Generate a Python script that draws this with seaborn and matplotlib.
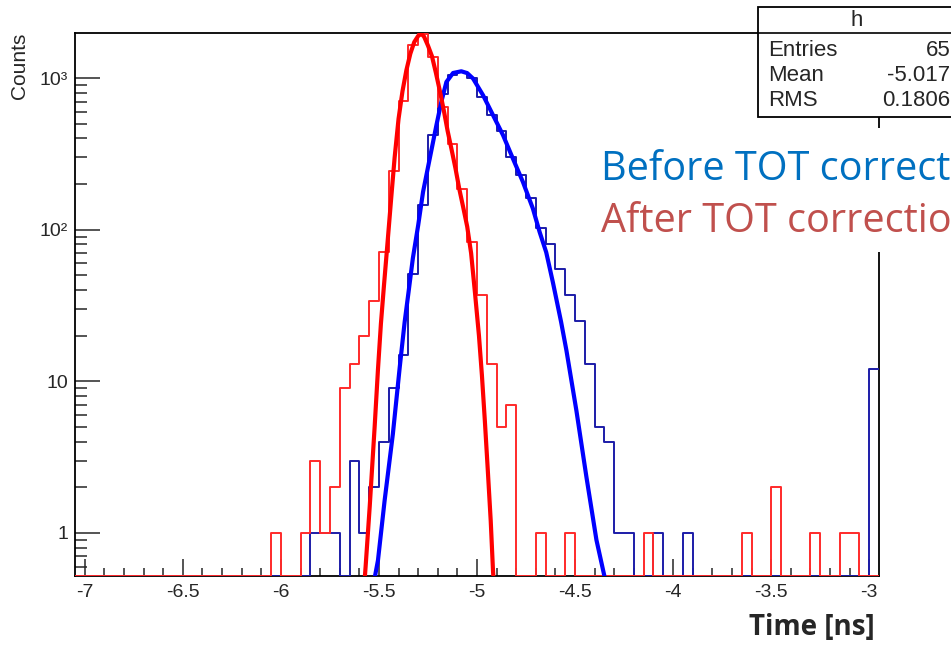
import matplotlib
matplotlib.use("Agg")
import matplotlib.pyplot as plt
import numpy as np
import seaborn as sns
from matplotlib.patches import Rectangle
from matplotlib.ticker import FixedLocator, LogLocator, NullFormatter

sns.set_style("ticks")
plt.rcParams["font.family"] = ["Liberation Sans", "DejaVu Sans"]

# binning of the time histograms (ns)
t_lo, t_hi, t_bin = -7.05, -2.95, 0.05
y_lo, y_hi = 0.52, 1986

# non-empty bins, given by left edge and counts
blue_left = [-5.85, -5.80, -5.75, -5.65, -5.60, -5.55, -5.50, -5.45, -5.40, -5.35,
             -5.30, -5.25, -5.20, -5.15, -5.10, -5.05, -5.00, -4.95, -4.90, -4.85,
             -4.80, -4.75, -4.70, -4.65, -4.60, -4.55, -4.50, -4.45, -4.40, -4.35,
             -4.30, -4.25, -4.10, -3.95, -3.00]
blue_count = [1, 1, 1, 3, 1, 2, 4, 9, 15, 51,
              145, 420, 790, 1045, 1100, 1003, 752, 575, 446, 302,
              229, 161, 102, 80, 55, 37, 25, 13, 5, 4,
              1, 1, 1, 1, 12]

red_left = [-6.05, -5.90, -5.85, -5.80, -5.75, -5.70, -5.65, -5.60, -5.55, -5.50,
            -5.45, -5.40, -5.35, -5.30, -5.25, -5.20, -5.15, -5.10, -5.05, -5.00,
            -4.95, -4.90, -4.85, -4.70, -4.55, -4.15, -3.65, -3.50, -3.30, -3.15,
            -3.10]
red_count = [1, 1, 3, 1, 2, 9, 13, 20, 34, 71,
             243, 704, 1650, 1950, 1380, 645, 370, 187, 83, 37,
             13, 5, 7, 1, 1, 1, 1, 2, 1, 1,
             1]

# fitted curves
blue_fit_t = [-5.525, -5.505, -5.471, -5.429, -5.394, -5.369, -5.349, -5.327, -5.300,
              -5.275, -5.241, -5.207, -5.182, -5.156, -5.122, -5.080, -5.050, -5.020,
              -4.969, -4.918, -4.867, -4.817, -4.766, -4.715, -4.681, -4.647, -4.613,
              -4.571, -4.544, -4.493, -4.442, -4.391, -4.349, -4.340]
blue_fit_n = [0.48, 0.66, 1.64, 4.5, 12.4, 24.6, 38.9, 65, 107,
              178, 295, 489, 697, 944, 1082, 1110, 1080, 994,
              771, 569, 420, 295, 207, 138, 97, 71, 45,
              24.6, 16, 6.4, 2.34, 0.9, 0.51, 0.45]

red_fit_t = [-5.578, -5.568, -5.547, -5.522, -5.505, -5.490, -5.475, -5.457, -5.437,
             -5.420, -5.400, -5.380, -5.360, -5.340, -5.320, -5.300, -5.284, -5.270,
             -5.250, -5.230, -5.210, -5.190, -5.170, -5.150, -5.130, -5.110, -5.090,
             -5.070, -5.050, -5.030, -5.010, -4.990, -4.975, -4.960, -4.945, -4.930,
             -4.918, -4.910]
red_fit_n = [0.4, 0.6, 1.5, 5, 12, 24, 42, 80, 165,
             300, 540, 820, 1130, 1450, 1730, 1900, 1960, 1880,
             1640, 1400, 1090, 830, 620, 450, 340, 255, 185,
             140, 105, 70, 38, 20, 11, 5.5, 2.6, 1.2,
             0.55, 0.4]

x_ticks = [-7, -6.5, -6, -5.5, -5, -4.5, -4, -3.5, -3]
x_labels = ["-7", "-6.5", "-6", "-5.5", "-5", "-4.5", "-4", "-3.5", "-3"]
y_ticks = [1, 10, 100, 1000]
y_labels = ["1", "10", "10²", "10³"]


def full_hist(left, count):
    edges = np.round(np.arange(t_lo, t_hi + t_bin / 2, t_bin), 3)
    counts = np.zeros(len(edges) - 1)
    idx = np.rint((np.array(left) - t_lo) / t_bin).astype(int)
    counts[idx] = count
    return edges, counts


W, H = 951, 645
fig = plt.figure(figsize=(W / 100, H / 100), dpi=100)
ax = fig.add_axes([75 / W, 69 / H, 804 / W, 543 / H])
ax.set_yscale("log")

for left, count, col in [(blue_left, blue_count, "#1c1ca8"), (red_left, red_count, "#ff2a2a")]:
    edges, counts = full_hist(left, count)
    centers = (edges[:-1] + edges[1:]) / 2
    # empty bins sit on the bottom of the frame, as in ROOT
    sns.histplot(x=centers, weights=np.maximum(counts, y_lo), bins=list(edges), element="step",
                 fill=False, color=col, linewidth=1.4, zorder=3, ax=ax)

sns.lineplot(x=blue_fit_t, y=blue_fit_n, color="#0000ff", linewidth=3, sort=False,
             estimator=None, zorder=4, ax=ax)
sns.lineplot(x=red_fit_t, y=red_fit_n, color="#ff0000", linewidth=3, sort=False,
             estimator=None, zorder=4, ax=ax)

ax.set_xlim(t_lo, t_hi)
ax.set_ylim(y_lo, y_hi)
ax.set_xlabel("")
ax.set_ylabel("")

ax.xaxis.set_major_locator(FixedLocator(x_ticks))
ax.set_xticklabels(x_labels)
ax.xaxis.set_minor_locator(FixedLocator(np.round(np.arange(-7.0, -2.95, 0.1), 2)))
ax.yaxis.set_major_locator(FixedLocator(y_ticks))
ax.set_yticklabels(y_labels)
ax.yaxis.set_minor_locator(LogLocator(base=10, subs=np.arange(2, 10), numticks=20))
ax.yaxis.set_minor_formatter(NullFormatter())

ax.tick_params(axis="x", which="major", direction="in", length=12, width=1.1, labelsize=14, pad=6)
ax.tick_params(axis="x", which="minor", direction="in", length=6, width=1.1)
ax.tick_params(axis="y", which="major", direction="in", length=18, width=1.1, labelsize=14, pad=5)
ax.tick_params(axis="y", which="minor", direction="in", length=8.5, width=1.1)
for s in ax.spines.values():
    s.set_visible(True)
    s.set_linewidth(1.3)
    s.set_color("black")

fig.text(20 / W, 1 - 66 / H, "Counts", rotation=90, ha="center", va="center", fontsize=15)

# stats box, partly outside the picture
fig.add_artist(Rectangle((758 / W, 1 - 117 / H), 210 / W, 110 / H, transform=fig.transFigure,
                         facecolor="white", edgecolor="black", linewidth=1.3, zorder=5))
fig.add_artist(plt.Line2D([758 / W, 1], [1 - 33 / H, 1 - 33 / H], transform=fig.transFigure,
                          color="black", linewidth=1.2, zorder=6))
fig.text(857 / W, 1 - 20 / H, "h", ha="center", va="center", fontsize=16, zorder=7)
for row, (name, val) in enumerate([("Entries", "65"), ("Mean", "-5.017"), ("RMS", "0.1806")]):
    yy = 1 - (50 + 25.5 * row) / H
    fig.text(768 / W, yy, name, ha="left", va="center", fontsize=16, zorder=7)
    fig.text(0.9995, yy, val, ha="right", va="center", fontsize=16, zorder=7)

# slide annotation
fig.add_artist(Rectangle((590 / W, 1 - 252 / H), 361 / W, 124 / H, transform=fig.transFigure,
                         facecolor="white", edgecolor="none", zorder=5))
fig.text(601 / W, 1 - 180 / H, "Before TOT correction", color="#0070c0", fontsize=28.5,
         family=["Open Sans", "DejaVu Sans"], va="baseline", zorder=7)
fig.text(601 / W, 1 - 231.5 / H, "After TOT correction", color="#c0504d", fontsize=28.5,
         family=["Open Sans", "DejaVu Sans"], va="baseline", zorder=7)
fig.text(875 / W, 1 - 628 / H, "Time [ns]", ha="right", va="center", fontsize=20,
         fontweight="bold", family=["Open Sans", "DejaVu Sans"])

fig.savefig("out.png", dpi=100)
